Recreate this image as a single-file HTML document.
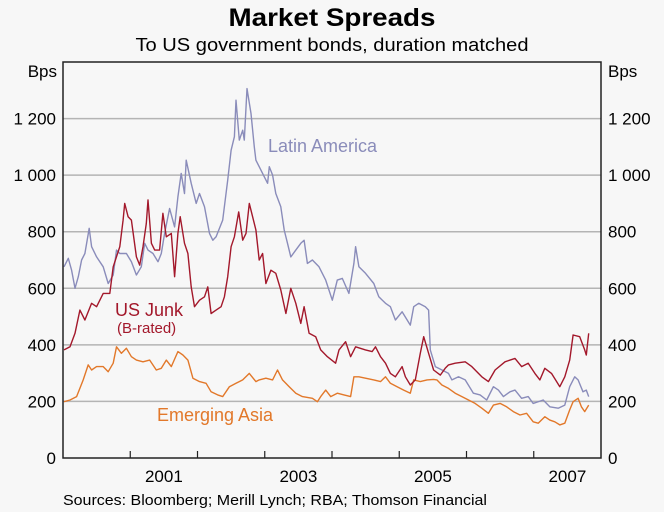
<!DOCTYPE html>
<html><head><meta charset="utf-8"><style>
body{margin:0;background:#f7f7f7;}
svg{display:block;font-family:"Liberation Sans",Arial,sans-serif;}
</style></head><body>
<svg id="chart" width="664" height="512" viewBox="0 0 664 512">
<rect x="0" y="0" width="664" height="512" fill="#f7f7f7"/>
<text x="332" y="26" text-anchor="middle" font-size="25" font-weight="bold" textLength="207" lengthAdjust="spacingAndGlyphs">Market Spreads</text>
<text x="332" y="51" text-anchor="middle" font-size="18" textLength="393" lengthAdjust="spacingAndGlyphs">To US government bonds, duration matched</text>
<text x="57" y="77" text-anchor="end" font-size="17">Bps</text>
<text x="608" y="77" font-size="17">Bps</text>
<g id="grid"></g>
<g id="series"></g>
<g id="axes"></g>
<text x="268" y="152" font-size="18" fill="#8a8cba">Latin America</text>
<text x="115" y="316" font-size="18" fill="#a3182b">US Junk</text>
<text x="117" y="333" font-size="15" fill="#a3182b">(B-rated)</text>
<text x="157" y="421" font-size="18" fill="#e2782a">Emerging Asia</text>
<text x="63" y="505" font-size="14.5" textLength="424" lengthAdjust="spacingAndGlyphs">Sources: Bloomberg; Merill Lynch; RBA; Thomson Financial</text>
</svg>
<script>
const yTicks=[0,200,400,600,800,1000,1200];
const yTickLabels=["0","200","400","600","800","1 000","1 200"];
const yearTicks=[2001,2002,2003,2004,2005,2006,2007];
const yearLabels=[2001,2003,2005,2007];
const laDates=[0.015,0.079,0.128,0.178,0.227,0.277,0.326,0.390,0.425,0.499,0.598,0.672,0.746,0.795,0.844,0.943,1.017,1.091,1.165,1.215,1.264,1.338,1.412,1.462,1.511,1.585,1.659,1.709,1.758,1.807,1.832,1.906,1.980,2.030,2.104,2.178,2.227,2.276,2.375,2.449,2.499,2.548,2.573,2.622,2.672,2.696,2.736,2.795,2.844,2.869,2.918,2.993,3.042,3.067,3.116,3.165,3.239,3.289,3.338,3.388,3.462,3.536,3.585,3.634,3.709,3.807,3.906,4.005,4.079,4.153,4.252,4.326,4.351,4.400,4.498,4.622,4.696,4.795,4.869,4.943,5.042,5.165,5.215,5.289,5.388,5.437,5.462,5.536,5.635,5.733,5.783,5.881,5.980,6.103,6.202,6.301,6.400,6.474,6.548,6.647,6.721,6.820,6.918,6.992,7.140,7.239,7.363,7.461,7.535,7.609,7.659,7.733,7.782,7.817];
const laValues=[676,706,664,600,641,700,723,812,747,711,676,617,647,735,723,723,694,647,676,759,735,723,694,723,794,882,817,923,1006,935,1053,971,900,935,888,794,770,782,841,982,1088,1136,1265,1124,1159,1124,1306,1218,1100,1053,1030,994,971,1030,1000,935,888,806,759,711,735,759,770,688,700,676,629,558,629,635,582,688,747,676,653,617,570,547,535,488,517,470,535,547,535,523,382,323,311,299,276,287,276,229,223,205,252,240,217,234,240,211,217,193,205,181,176,187,252,287,276,234,240,217];
const junkDates=[0.015,0.104,0.178,0.252,0.326,0.425,0.499,0.598,0.696,0.746,0.844,0.894,0.918,0.968,1.017,1.091,1.141,1.190,1.239,1.264,1.314,1.363,1.437,1.486,1.536,1.610,1.659,1.709,1.743,1.807,1.857,1.906,1.955,2.030,2.104,2.153,2.202,2.276,2.351,2.400,2.449,2.499,2.548,2.612,2.672,2.721,2.770,2.820,2.869,2.918,2.968,3.017,3.091,3.165,3.239,3.314,3.388,3.462,3.536,3.585,3.659,3.758,3.832,3.931,4.054,4.104,4.202,4.276,4.351,4.498,4.597,4.647,4.721,4.795,4.869,4.943,5.042,5.091,5.165,5.239,5.313,5.363,5.437,5.511,5.610,5.684,5.733,5.832,5.980,6.079,6.227,6.326,6.425,6.573,6.721,6.820,6.918,7.017,7.091,7.165,7.264,7.387,7.461,7.535,7.585,7.683,7.757,7.782,7.817];
const junkValues=[382,393,441,523,488,547,535,582,582,676,747,841,900,853,841,711,682,747,829,912,759,735,735,865,782,794,641,794,853,759,723,605,535,558,570,605,511,523,535,570,641,747,782,870,770,794,900,853,806,700,723,617,664,653,594,511,600,547,476,535,441,429,382,358,335,382,411,358,393,382,376,393,358,335,299,287,323,287,258,276,370,429,370,311,293,317,329,335,340,323,287,270,311,340,352,323,335,299,276,317,299,252,287,346,435,429,382,364,441];
const asiaDates=[0.015,0.104,0.202,0.301,0.375,0.425,0.499,0.598,0.672,0.746,0.795,0.869,0.943,1.017,1.091,1.190,1.289,1.388,1.462,1.536,1.610,1.709,1.783,1.857,1.931,2.030,2.128,2.202,2.301,2.375,2.474,2.573,2.672,2.770,2.869,2.918,3.017,3.116,3.190,3.264,3.363,3.462,3.560,3.709,3.783,3.832,3.906,3.980,4.079,4.178,4.276,4.326,4.400,4.498,4.622,4.721,4.795,4.869,4.968,5.066,5.165,5.215,5.313,5.412,5.511,5.560,5.634,5.733,5.832,5.931,6.030,6.128,6.227,6.326,6.400,6.499,6.597,6.696,6.795,6.894,6.992,7.066,7.165,7.239,7.313,7.387,7.461,7.535,7.585,7.659,7.708,7.757,7.817];
const asiaValues=[199,205,217,276,329,311,323,323,305,335,393,370,388,358,346,340,346,311,317,346,323,376,364,346,282,270,264,234,223,217,252,264,276,299,270,276,282,276,311,276,252,229,217,211,199,217,240,217,229,223,217,287,287,282,276,270,287,264,252,240,229,276,270,276,278,276,258,246,229,217,205,193,176,158,187,193,181,164,152,158,128,123,146,134,128,117,123,170,199,211,181,164,187];

const NS="http://www.w3.org/2000/svg";
const L=63,R=601,T=62,B=458,X0=2000,X1=2008,YMAX=1400;
function xs(t){return L+(t-X0)/(X1-X0)*(R-L);}
function ys(v){return B-v/YMAX*(B-T);}
function mk(tag,attrs,parent){const e=document.createElementNS(NS,tag);for(const k in attrs)e.setAttribute(k,attrs[k]);parent.appendChild(e);return e;}
const grid=document.getElementById('grid'),axes=document.getElementById('axes'),series=document.getElementById('series');
yTicks.forEach((v,i)=>{
  if(v>0){const g=mk('line',{x1:L,x2:R,y1:ys(v),y2:ys(v),stroke:'#b4b4b4','stroke-width':1.5},grid);
  
  }
  const a=mk('text',{x:56,y:ys(v)+6,'text-anchor':'end','font-size':17},axes);a.textContent=yTickLabels[i];
  
  
  const b=mk('text',{x:608,y:ys(v)+6,'font-size':17},axes);b.textContent=yTickLabels[i];
  
  
});
function drawLine(d,v,color,name){
  const pts=d.map((t,i)=>xs(X0+t).toFixed(1)+','+ys(v[i]).toFixed(1)).join(' ');
  const p=mk('polyline',{points:pts,fill:'none',stroke:color,'stroke-width':1.4,'stroke-linejoin':'round'},series);
  
  
}
drawLine(asiaDates,asiaValues,'#e2782a','emerging-asia-line');
drawLine(laDates,laValues,'#8a8cba','latin-america-line');
drawLine(junkDates,junkValues,'#a3182b','us-junk-line');
const frame=mk('rect',{x:L,y:T,width:R-L,height:B-T,fill:'none',stroke:'#222','stroke-width':1.5},axes);


yearTicks.forEach(y=>{
  const t=mk('line',{x1:xs(y),x2:xs(y),y1:B,y2:B-7,stroke:'#222','stroke-width':1.2},axes);
  
  
});
yearLabels.forEach(y=>{
  const t=mk('text',{x:xs(y+0.5),y:482,'text-anchor':'middle','font-size':17},axes);t.textContent=y;
  
  
});
</script>
</body></html>
